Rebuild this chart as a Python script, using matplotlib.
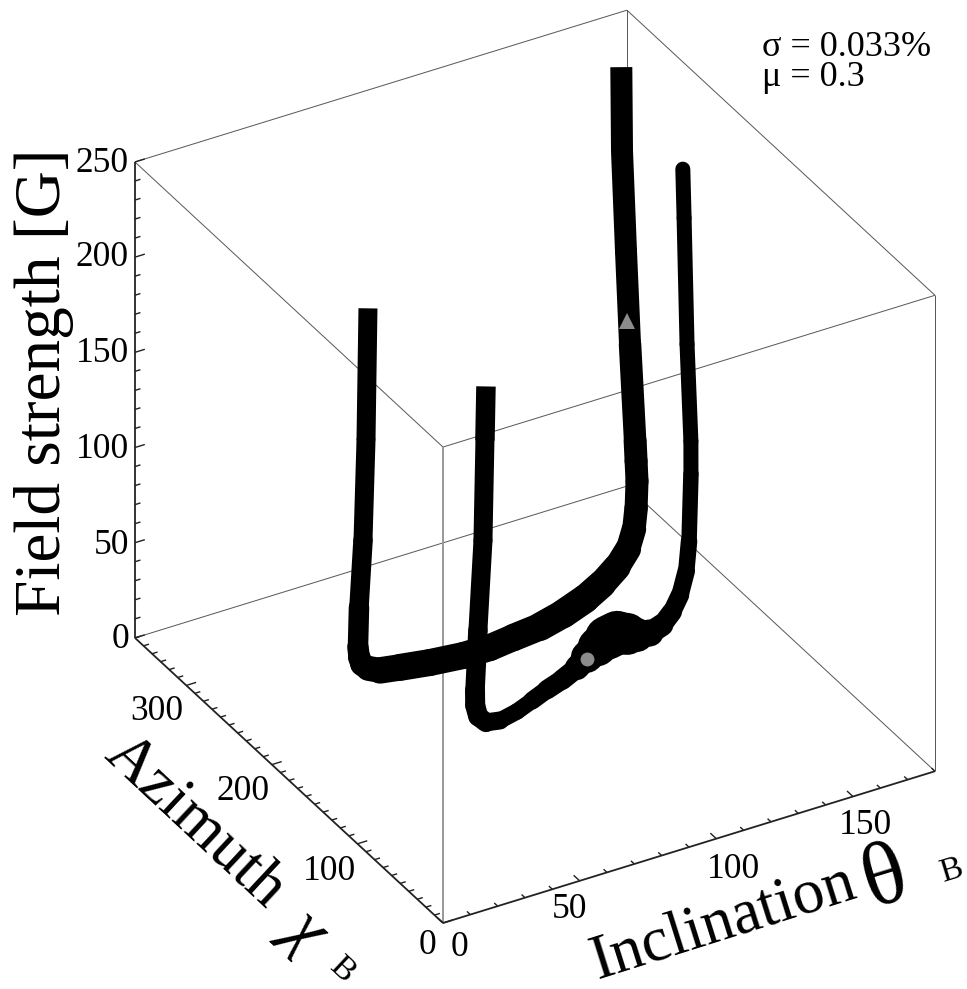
import numpy as np
import matplotlib
matplotlib.use("Agg")
import matplotlib.pyplot as plt
from mpl_toolkits.mplot3d import proj3d
from mpl_toolkits.mplot3d.art3d import Line3DCollection

# ---- data ----
theta1 = [50, 50, 50, 50, 50, 49, 48.8, 49.9, 53.1, 59.5, 69.1, 80.3, 90.1, 98.8, 108.9, 117.9, 130.6, 139.6,
          148.8, 156, 157.9, 159.1, 159.4, 158.9, 158.9, 158, 157.4, 156.6, 162.7]
chi1 = [247.4, 249.7, 253.2, 257.9, 259.1, 254.5, 250.6, 246.8, 243.2, 240.2, 236.1, 233, 232.7, 233.5, 234.2,
        236.1, 251.1, 260.2, 271.9, 282, 281.2, 282.5, 282.4, 281.9, 283, 286.1, 288.9, 291, 311.3]
field1 = [197.8, 127.5, 73.5, 36.3, 14.9, 12, 10, 9, 8, 8, 8, 8, 8, 9, 10, 12, 8, 8, 8, 10, 20, 30, 44, 55, 65,
          115, 163, 215, 248]
width1 = [19, 19, 19, 20, 21, 22, 23, 24, 26, 27, 27, 27, 27, 27, 28, 29, 29, 28, 27, 25, 24, 23, 23, 23, 23,
          22, 22, 22, 22]

theta2 = [66, 66, 66, 66, 66, 66.6, 66.4, 67.9, 72.9, 80.2, 87.6, 94.9, 102, 109.6, 115.6, 121.4, 126.7, 131,
          133.4, 135.8, 140, 145.1, 150.5, 155.5, 158.7, 161, 161.6, 161.8, 160.7, 160, 159.5]
chi2 = [160.6, 161.8, 164.1, 170, 173.4, 175.1, 171, 166.6, 166.1, 169.7, 175.6, 181.6, 186.6, 193.5, 201, 207.5,
        213.1, 214.9, 211, 207.1, 205.2, 207.4, 213.2, 219.7, 222.6, 226.7, 226.4, 227.1, 228.1, 229.3, 229.2]
field2 = [185.8, 156.9, 103.4, 53.7, 20.8, 12, 8, 6, 5, 5, 5, 5, 5, 5, 5, 5, 5, 5, 5, 5, 5, 6, 8, 12, 22, 35, 70,
          87, 138, 204, 230]
width2 = [20, 19, 19, 19, 20, 20, 20, 19, 17, 16, 17, 19, 20, 21, 28, 36, 42, 46, 38, 30, 24, 21, 19, 18, 17, 16,
          15, 15, 15, 15, 15]

circle_point = (115, 199, 5)
triangle_point = (157.5, 288, 126.6)

theta_lim = (0, 180)
chi_lim = (0, 360)
field_lim = (0, 250)
theta_ticks = list(range(0, 181, 10))
chi_ticks = list(range(0, 361, 10))
field_ticks = list(range(0, 251, 10))

W, H = 967, 989
plt.rcParams['font.family'] = ['Liberation Serif', 'DejaVu Serif']
fig = plt.figure(figsize=(W / 100, H / 100), dpi=100, facecolor='white')
side = 1100
ax = fig.add_axes([(W - side) / 2 / W, (H - side) / 2 / H, side / W, side / H],
                  projection='3d', computed_zorder=False, proj_type='ortho')
ax.set_axis_off()
ax.patch.set_visible(False)
ax.view_init(elev=32.3, azim=-120)
ax.set_xlim(*theta_lim, view_margin=0)
ax.set_ylim(*chi_lim, view_margin=0)
ax.set_zlim(*field_lim, view_margin=0)
aspect = (568, 616, 563)
ax.set_box_aspect(aspect, zoom=1.0)


def to_px(x, y, z):
    X, Y, _ = proj3d.proj_transform(x, y, z, ax.get_proj())
    return ax.transData.transform((X, Y))


# calibrate the frame onto the reference pixel corners
fig.canvas.draw()
p0, p1 = to_px(0, 360, 0), to_px(180, 0, 0)
zoom = 800 / (p1[0] - p0[0])
ax.set_box_aspect(aspect, zoom=zoom)
fig.canvas.draw()
p = to_px(0, 0, 0)
dx, dy = 443 - p[0], (H - 923) - p[1]
pos = ax.get_position()
ax.set_position([pos.x0 + dx / W, pos.y0 + dy / H, pos.width, pos.height])
fig.canvas.draw()

t0, t1 = theta_lim
c0, c1 = chi_lim
f0, f1 = field_lim


def seg(a, b, color, px, z=1):
    ax.plot([a[0], b[0]], [a[1], b[1]], [a[2], b[2]], color=color, lw=px * 0.72,
            zorder=z, clip_on=False, solid_capstyle='butt')


box = '#5a5a5a'
for a, b in [((t0, c1, f1), (t1, c1, f1)), ((t1, c1, f1), (t1, c0, f1)),
             ((t1, c0, f1), (t0, c0, f1)), ((t0, c0, f1), (t0, c1, f1)),
             ((t0, c1, f0), (t1, c1, f0)), ((t1, c1, f0), (t1, c0, f0)),
             ((t1, c1, f0), (t1, c1, f1)), ((t1, c0, f0), (t1, c0, f1))]:
    seg(a, b, box, 1.0)
seg((t0, c0, f0), (t0, c0, f1), '#9a9a9a', 2.0)
seg((t0, c1, f0), (t0, c1, f1), '#222222', 1.8, 2)
seg((t0, c0, f0), (t0, c1, f0), '#222222', 1.8, 2)
seg((t0, c0, f0), (t1, c0, f0), '#222222', 1.8, 2)

for v in field_ticks:
    L = 3.6 if v % 50 == 0 else 2.0
    seg((t0, c1, v), (t0 + L, c1, v), '#222222', 1.4, 2)
for v in chi_ticks:
    L = 3.6 if v % 100 == 0 else 2.0
    seg((t0, v, f0), (t0 + L, v, f0), '#222222', 1.4, 2)
for v in theta_ticks:
    L = 7 if v % 50 == 0 else 4
    seg((v, c0, f0), (v, c0 + L, f0), '#222222', 1.4, 2)


def band(th, ch, fl, wd, z, flat_start=False, flat_end=False):
    pts = np.column_stack([th, ch, fl])
    segs = np.stack([pts[:-1], pts[1:]], axis=1)
    w = (np.array(wd[:-1]) + np.array(wd[1:])) / 2 * 0.72
    i0 = 1 if flat_start else 0
    i1 = len(segs) - 1 if flat_end else len(segs)
    groups = [(segs[i0:i1], w[i0:i1], 'round')]
    if flat_start:
        groups.append((segs[:1], w[:1], 'butt'))
    if flat_end:
        groups.append((segs[-1:], w[-1:], 'butt'))
    for s, lw, cap in groups:
        col = Line3DCollection(s, colors='black', linewidths=lw, capstyle=cap,
                               joinstyle='round', zorder=z)
        col.set_clip_on(False)
        ax.add_collection3d(col)


band(theta2, chi2, field2, width2, 5, flat_start=True)
band(theta1, chi1, field1, width1, 6, flat_start=True, flat_end=True)

ax.plot(*[[v] for v in circle_point], 'o', color='#8c8c8c', ms=10, mew=0, zorder=8, clip_on=False)
ax.plot(*[[v] for v in triangle_point], '^', color='#8c8c8c', ms=11, mew=0, zorder=8, clip_on=False)


def label(x, y, s, size, rot=0, ha='center', **kw):
    fig.text(x / W, 1 - y / H, s, fontsize=size, rotation=rot, ha=ha, va='center',
             rotation_mode='anchor', color='black', **kw)


for v, y in zip([0, 50, 100, 150, 200, 250], [637, 542, 447, 350, 255, 160]):
    label(129, y + 3, str(v), 25.5, ha='right')
for v, x, y in [(0, 427, 943), (100, 329, 868), (200, 243, 789), (300, 157, 709)]:
    label(x, y + 3, str(v), 25.5)
for v, x, y in [(0, 460, 945), (50, 570, 907), (100, 733, 867), (150, 866, 822)]:
    label(x, y + 3, str(v), 25.5)

label(44, 382, 'Field strength [G]', 47, rot=90)
label(724, 923, 'Inclination', 45.5, rot=17.5)
label(886, 880, 'θ', 64, rot=17)
label(951, 871, 'B', 24, rot=17)
label(195, 822, 'Azimuth', 46, rot=-43)
label(306, 928, 'χ', 50, rot=-43, style='italic')
label(342, 970, 'B', 24, rot=-43)
label(762, 47, 'σ = 0.033%', 26, ha='left')
label(762, 77, 'μ = 0.3', 26, ha='left')

fig.savefig('out.png', dpi=100, facecolor='white')
